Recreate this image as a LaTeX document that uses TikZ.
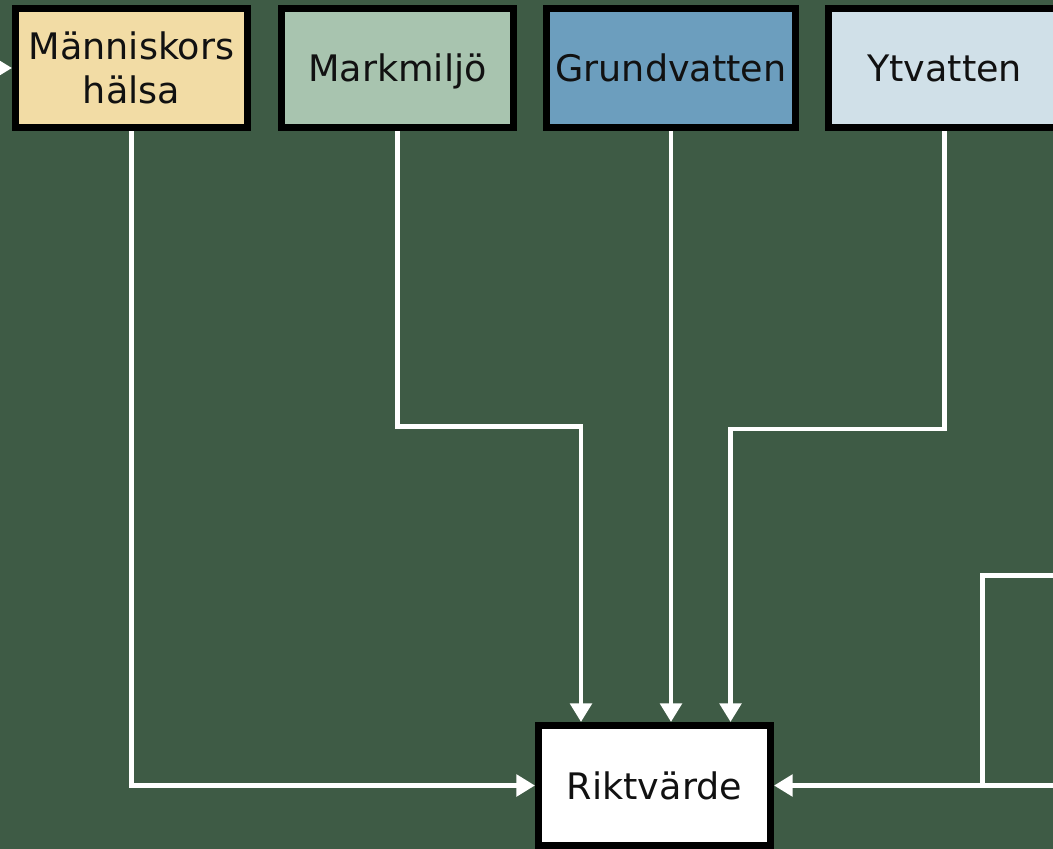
\documentclass[tikz,border=0pt]{standalone}
\usepackage{fontspec}
\setmainfont{DejaVu Sans}
\usetikzlibrary{arrows.meta}
\definecolor{bggreen}{RGB}{62,91,69}
\definecolor{cmann}{RGB}{242,220,165}
\definecolor{cmark}{RGB}{168,196,175}
\definecolor{cgrund}{RGB}{108,158,190}
\definecolor{cyt}{RGB}{208,224,232}
\definecolor{txt}{RGB}{17,17,17}
\tikzset{
  box/.style={draw=black, line width=5.25pt, inner sep=0pt, align=center,
    minimum width=174pt, minimum height=89.25pt, text=txt,
    font=\fontsize{27.4pt}{33pt}\selectfont},
  oneline/.style={text height=21pt, text depth=0pt},
  conn/.style={draw=white, line width=3.4pt},
  arr/.style={conn, -{Triangle[width=16pt,length=14pt]}}
}
\begin{document}
\begin{tikzpicture}[x=0.75pt,y=-0.75pt]
\useasboundingbox (0,0) rectangle (1053,849);
\clip (0,0) rectangle (1053,849);
\fill[bggreen] (0,0) rectangle (1053,849);
% coordinates
\coordinate (l0) at (-10,68);
\coordinate (m1) at (581,426.5);
\coordinate (y1) at (730.5,429);
\coordinate (r0) at (1070,575.5);
\coordinate (r1) at (982.5,575.5);
\coordinate (r2) at (1070,785.5);
% nodes
\node[box, fill=cmann] (man) at (131.5,68) {Människors\\hälsa};
\node[box, oneline, fill=cmark] (mark) at (397.5,68) {Markmiljö};
\node[box, oneline, fill=cgrund, minimum width=186.75pt] (grund) at (671,68) {Grundvatten};
\node[box, oneline, fill=cyt] (yt) at (944.5,68) {Ytvatten};
\node[box, oneline, fill=white, minimum height=90pt] (rikt) at (654.5,785.5) {Riktvärde};
% connectors
\draw[arr] (l0) -- (man.west);
\draw[arr] (man.south) |- (rikt.west);
\draw[arr] (mark.south) |- (m1) -- (m1 |- rikt.north);
\draw[arr] (grund.south) -- (grund.south |- rikt.north);
\draw[arr] (yt.south) |- (y1) -- (y1 |- rikt.north);
\draw[conn] (r0) -- (r1) -- (r1 |- rikt.east);
\draw[arr] (r2) -- (rikt.east);
\end{tikzpicture}
\end{document}
